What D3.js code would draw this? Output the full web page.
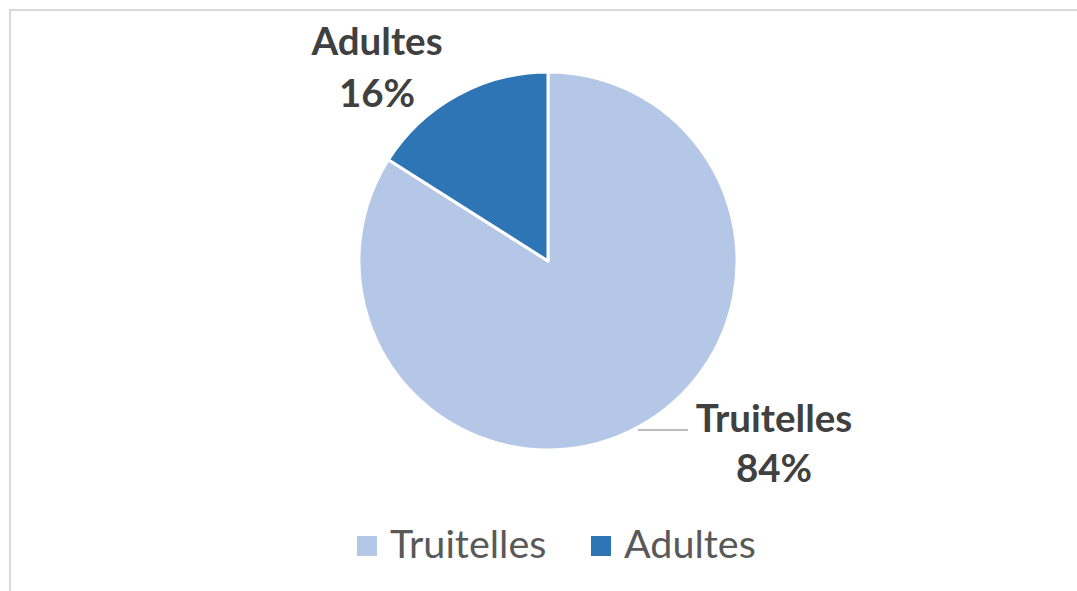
<!DOCTYPE html>
<html><head><meta charset="utf-8">
<script src="https://cdn.jsdelivr.net/npm/d3@7"></script>
<style>body{margin:0;background:#fff}svg{display:block}</style>
</head><body>
<svg id="c" width="1077" height="591"></svg>
<script>
const categories = ["Truitelles", "Adultes"];
const values = [84, 16];
const colors = ["#b4c7e7", "#2e75b6"];

const svg = d3.select("#c");
const W = 1077, H = 591;
svg.append("rect").attr("x", 10).attr("y", 10).attr("width", W + 10).attr("height", H + 10)
  .attr("fill", "#fff").attr("stroke", "#d9d9d9").attr("stroke-width", 2);

const cx = 548, cy = 261, r = 189;
const data = categories.map((c, i) => ({ name: c, value: values[i], color: colors[i] }));
const pie = d3.pie().value(d => d.value).sort(null);
const arcs = pie(data);
const arc = d3.arc().innerRadius(0).outerRadius(r);
const g = svg.append("g").attr("transform", `translate(${cx},${cy})`);
g.selectAll("path").data(arcs).join("path")
  .attr("d", arc).attr("fill", d => d.data.color)
  .attr("stroke", "#fff").attr("stroke-width", 3).attr("stroke-linejoin", "round");

// labels
const font = "Lato, 'Open Sans', sans-serif";
const labelPos = [
  { x: 774, y1: 432, y2: 482 },
  { x: 377, y1: 55, y2: 107 }
];
arcs.forEach((a, i) => {
  const p = labelPos[i];
  const t = svg.append("text").attr("text-anchor", "middle").attr("font-family", font)
    .attr("font-weight", "bold").attr("font-size", 38.5).attr("fill", "#404040");
  t.append("tspan").attr("x", p.x).attr("y", p.y1).text(a.data.name);
  t.append("tspan").attr("x", p.x).attr("y", p.y2).text(Math.round(a.data.value) + "%");
});
// leader line for Truitelles
svg.append("path").attr("d", d3.line()([[638, 430], [688, 430]]))
  .attr("stroke", "#a6a6a6").attr("stroke-width", 1.3).attr("fill", "none");

// legend
const leg = svg.append("g");
const legX = [357, 591];
data.forEach((d, i) => {
  leg.append("rect").attr("x", legX[i]).attr("y", 536).attr("width", 20).attr("height", 20).attr("fill", d.color);
  leg.append("text").attr("x", legX[i] + 33).attr("y", 558).attr("font-family", font)
    .attr("font-size", 39.5).attr("fill", "#595959").text(d.name);
});
</script>
</body></html>
